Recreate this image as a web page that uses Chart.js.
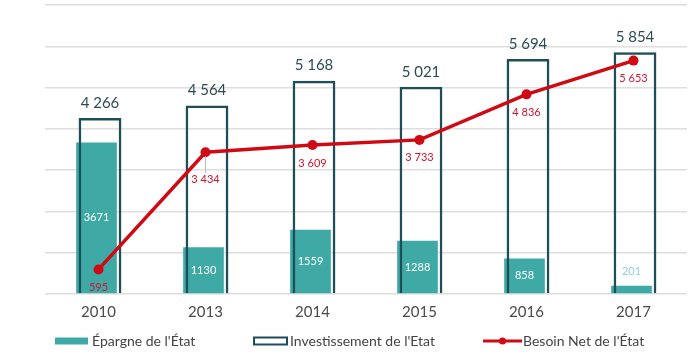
<!DOCTYPE html>
<html><head><meta charset="utf-8">
<script src="https://cdn.jsdelivr.net/npm/chart.js@4/dist/chart.umd.min.js"></script>
<style>html,body{margin:0;padding:0;background:#fff}#wrap{width:700px;height:355px}</style>
</head><body><div id="wrap"><canvas id="c" width="700" height="355"></canvas></div>
<script>
const categories = ['2010','2013','2014','2015','2016','2017'];
const epargne = [3671,1130,1559,1288,858,201];
const investissement = [4266,4564,5168,5021,5694,5854];
const besoin = [595,3434,3609,3733,4836,5653];
const seriesNames = ["Épargne de l'État","Investissement de l'Etat","Besoin Net de l'État"];

const FONT = 'Lato, "Open Sans", sans-serif';
const TEAL = '#3fa9a5', DARK = '#1e4e58', RED = '#cf0a14';
const fmt = v => (v >= 1000 ? String(v).replace(/^(\d)(\d{3})$/, '$1 $2') : String(v));

const labelsPlugin = {
  id: 'labels',
  afterDatasetsUpdate(chart) {
    chart.getDatasetMeta(0).data.forEach(b => { b.x -= 2; });
    chart.getDatasetMeta(1).data.forEach(b => { b.x += 1.5; });
  },
  afterDatasetsDraw(chart) {
    const ctx = chart.ctx;
    ctx.save();
    ctx.textAlign = 'center';
    ctx.textBaseline = 'middle';
    const m0 = chart.getDatasetMeta(0);
    m0.data.forEach((b, i) => {
      const h = b.base - b.y;
      ctx.font = '11px ' + FONT;
      if (h > 24) {
        ctx.fillStyle = '#ffffff';
        ctx.fillText(String(epargne[i]), b.x, (b.y + b.base) / 2);
      } else {
        ctx.fillStyle = '#8fd3d0';
        ctx.fillText(String(epargne[i]), b.x, b.y - 14);
      }
    });
    const m1 = chart.getDatasetMeta(1);
    m1.data.forEach((b, i) => {
      ctx.font = '15px ' + FONT;
      ctx.fillStyle = '#2e4b53';
      ctx.fillText(fmt(investissement[i]), b.x, b.y - 15);
    });
    const m2 = chart.getDatasetMeta(2);
    m2.data.forEach((p, i) => {
      const off = i === 1 ? 27 : 18;
      if (i === 1) {
        ctx.strokeStyle = '#bbbbbb'; ctx.lineWidth = 1;
        ctx.beginPath(); ctx.moveTo(p.x, p.y + 4); ctx.lineTo(p.x, p.y + off - 6); ctx.stroke();
      }
      ctx.font = '11px ' + FONT;
      ctx.fillStyle = '#d0142c';
      ctx.fillText(fmt(besoin[i]), p.x, p.y + off);
    });
    ctx.restore();
  },
  afterDraw(chart) {
    const ctx = chart.ctx;
    ctx.save();
    ctx.textBaseline = 'middle';
    ctx.textAlign = 'left';
    ctx.font = '14px ' + FONT;
    const y = 341;
    ctx.fillStyle = TEAL;
    ctx.fillRect(55, y - 3.5, 33, 7);
    ctx.fillStyle = '#444';
    ctx.fillText(seriesNames[0], 92, y);
    ctx.strokeStyle = DARK; ctx.lineWidth = 2;
    ctx.strokeRect(254, y - 3.5, 33, 7);
    ctx.fillText(seriesNames[1], 290, y);
    ctx.strokeStyle = RED; ctx.lineWidth = 3;
    ctx.beginPath(); ctx.moveTo(483, y); ctx.lineTo(522, y); ctx.stroke();
    ctx.fillStyle = RED;
    ctx.beginPath(); ctx.arc(502.5, y, 3.5, 0, Math.PI * 2); ctx.fill();
    ctx.fillStyle = '#444';
    ctx.fillText(seriesNames[2], 523, y);
    ctx.restore();
  }
};

new Chart(document.getElementById('c'), {
  type: 'bar',
  data: {
    labels: categories,
    datasets: [
      { label: seriesNames[0], data: epargne, backgroundColor: TEAL, borderWidth: 0,
        grouped: false, categoryPercentage: 1, barPercentage: 0.38, order: 3 },
      { label: seriesNames[1], data: investissement, backgroundColor: 'rgba(0,0,0,0)',
        borderColor: DARK, borderWidth: 2.5, grouped: false, categoryPercentage: 1, barPercentage: 0.40, order: 2 },
      { type: 'line', label: seriesNames[2], data: besoin, borderColor: RED, backgroundColor: RED,
        borderWidth: 3.5, pointRadius: 5, pointBackgroundColor: RED, pointBorderWidth: 0, tension: 0, order: 1 }
    ]
  },
  options: {
    responsive: false,
    animation: false,
    devicePixelRatio: 1,
    layout: { padding: { left: 45, right: 13, top: 1, bottom: 32 } },
    plugins: { legend: { display: false }, tooltip: { enabled: false } },
    scales: {
      x: {
        grid: { display: false, drawTicks: false },
        border: { display: false },
        ticks: { color: '#4a4a4a', font: { family: FONT, size: 15 }, padding: 9 },
        afterFit(s) { s.height = 29; }
      },
      y: {
        min: 0, max: 7000,
        ticks: { display: false, stepSize: 1000 },
        grid: { color: '#dedede', lineWidth: 1.5, drawTicks: false },
        border: { display: false },
        afterFit(s) { s.width = 0; }
      }
    }
  },
  plugins: [labelsPlugin]
});
</script></body></html>
